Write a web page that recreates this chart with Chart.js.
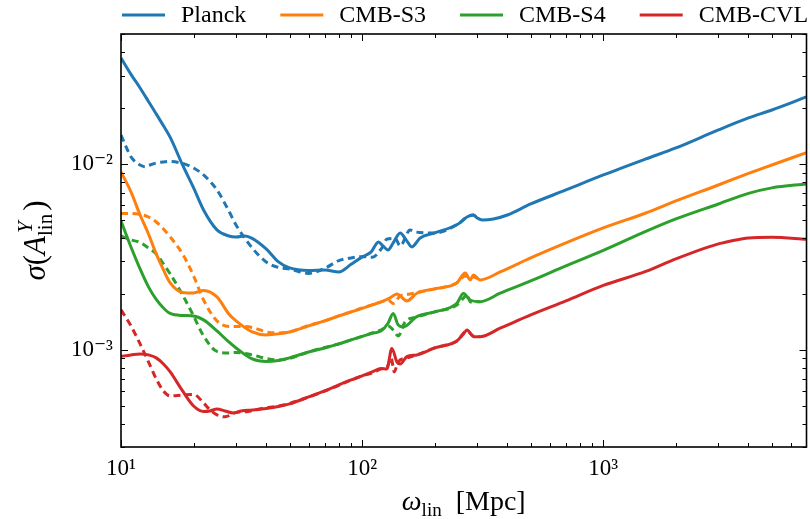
<!DOCTYPE html>
<html><head><meta charset="utf-8">
<script src="https://cdn.jsdelivr.net/npm/chart.js@4.4.0/dist/chart.umd.min.js"></script>
<style>html,body{margin:0;padding:0;background:#fff}#wrap{width:810px;height:519px}</style>
</head><body><div id="wrap"><canvas id="c" width="810" height="519"></canvas></div>
<script>
// ---------- data ----------
const seriesNames = ['Planck', 'CMB-S3', 'CMB-S4', 'CMB-CVL'];

const planckSolidX = [10,11,12,13,14,15,16,18,20,22,25,28,30,32.7,35,40,45,50,60,70,80,90,100,109,116.8,122,128,134.5,143.8,152.2,160.8,174,200,250,272,289,300,315,350,400,500,700,1000,1500,2000,3000,4000,5000,6960];
const planckSolidY = [0.03736,0.0305,0.02576,0.0218,0.01866,0.0161,0.01395,0.00991,0.00746,0.00567,0.00443,0.00411,0.00406,0.00411,0.00399,0.0035,0.00298,0.002764,0.00268,0.002697,0.00263,0.00289,0.00317,0.003372,0.003817,0.003631,0.003456,0.00377,0.004266,0.003913,0.003585,0.00401,0.004266,0.00477,0.0052,0.00533,0.005139,0.005012,0.005072,0.00533,0.006111,0.007272,0.008758,0.01068,0.01224,0.0153,0.01776,0.0196,0.02304];
const planckDashX = [10,10.5,11,12,12.6,13,14,15,16,18,20,22,25,28,30,35,40,45,50,60,70,80,90,100,110,120,127,137,143.8,158,166,200,250,272,289,300];
const planckDashY = [0.01438,0.0124,0.01095,0.0099,0.0097,0.00985,0.01016,0.01029,0.01035,0.0101,0.00955,0.008758,0.007272,0.005603,0.00471,0.003541,0.002978,0.00278,0.00273,0.002582,0.00275,0.00303,0.00313,0.00318,0.003157,0.0035,0.003961,0.003986,0.003631,0.00443,0.004319,0.004266,0.00477,0.0052,0.00533,0.005139];

const s3SolidX = [10,11,12,13,14,15,16,18,20,22,25,28,30,35,40,45,50,60,70,80,90,100,110,120,130.6,139.3,153.3,168.6,200,247,267.6,280.5,289.6,308.7,373.7,500,700,1000,1500,2000,3000,4000,5000,6960];
const s3SolidY = [0.00909,0.007093,0.00533,0.004213,0.003289,0.002697,0.002296,0.002041,0.002028,0.002092,0.00193,0.001562,0.001433,0.00125,0.001205,0.00122,0.00125,0.001347,0.001433,0.001524,0.001602,0.001674,0.001748,0.001814,0.001905,0.002003,0.001837,0.00202,0.002131,0.002296,0.002598,0.002382,0.002534,0.002382,0.00263,0.00313,0.00377,0.004539,0.005465,0.006344,0.007734,0.008922,0.00991,0.01155];
const s3DashX = [10,11,12,13,14,15,16,18,20,22,25,28,30,35,40,45,50,60,70,80,90,100,110,120,128.2,134.5,143.8,158,174,200,247,267.6,280.5,289.6,308.7];
const s3DashY = [0.005432,0.005432,0.005365,0.0052,0.004889,0.004483,0.00406,0.003289,0.002503,0.001858,0.001433,0.001338,0.001338,0.001322,0.00125,0.001235,0.00125,0.001355,0.001433,0.001524,0.001602,0.001683,0.001748,0.001814,0.001858,0.00178,0.001954,0.002003,0.002053,0.002131,0.002296,0.002503,0.002442,0.002472,0.002382];

const s4SolidX = [10,11,12,13,14,15,16,18,20,22,25,28,30,35,40,45,50,60,70,80,90,100,110,120,128.2,134.5,141,148,168.6,200,247,263.3,272,280.5,308.7,373.7,500,700,1000,1500,2000,3000,4000,5000,6960];
const s4SolidY = [0.004949,0.003585,0.00273,0.002185,0.00187,0.001683,0.001572,0.001533,0.001524,0.001451,0.001266,0.001104,0.001025,0.000894,0.000867,0.000878,0.000906,0.000975,0.001025,0.001077,0.001132,0.001182,0.001227,0.001266,0.001397,0.001572,0.001364,0.00133,0.001511,0.001602,0.001784,0.00202,0.001936,0.001858,0.00182,0.00202,0.002352,0.002834,0.003434,0.004346,0.005074,0.006111,0.006965,0.00746,0.007832];
const s4DashX = [10,11,12,13,14,15,16,18,20,22,25,28,30,35,40,45,50,60,70,80,90,100,110,120,128.2,134.5,141,150.7,168.6,200,247,263.3,272,280.5,308.7];
const s4DashY = [0.00411,0.003913,0.003793,0.003541,0.003289,0.002905,0.002566,0.001979,0.001524,0.00119,0.000981,0.000963,0.000969,0.00094,0.0009,0.000883,0.0009,0.000975,0.001031,0.001077,0.001132,0.001182,0.001235,0.001281,0.001347,0.001281,0.00119,0.001415,0.001506,0.001602,0.001748,0.001905,0.002003,0.001814,0.00182];

const cvlSolidX = [10,11,12,13,14,15,16,18,20,22,23.4,25,27,29.2,31.5,35,40,45,50,60,70,80,90,100,110,120,126.6,132.8,139.3,143.8,153.3,168.6,200,247,263.3,272,289.6,308.7,373.7,500,700,1000,1500,2000,3000,3500,4000,5000,6960];
const cvlSolidY = [0.000923,0.00094,0.000952,0.00094,0.000906,0.00084,0.000761,0.000601,0.000499,0.000466,0.000469,0.000481,0.000469,0.000458,0.000469,0.000475,0.000484,0.000496,0.000512,0.000558,0.000601,0.000648,0.000689,0.000724,0.000761,0.000795,0.00079,0.001019,0.000862,0.00084,0.00092,0.00094,0.001025,0.001118,0.00122,0.001281,0.001179,0.001179,0.001309,0.001543,0.001837,0.002225,0.002647,0.003091,0.003723,0.0039,0.00401,0.004045,0.003945];
const cvlDashX = [10,11,12,13,14,15,16,18,20,22,23.4,25,27,29.7,33.6,38.5,45,50,60,70,80,90,100,110,120,127,131.9,135.8,141,153.3,168.6,200,247,272,289,308.7];
const cvlDashY = [0.001643,0.001347,0.001077,0.000862,0.000698,0.000601,0.000565,0.000572,0.000576,0.000518,0.000475,0.000447,0.000436,0.000458,0.000466,0.000484,0.000499,0.000515,0.000558,0.000601,0.000644,0.000689,0.000724,0.000752,0.00079,0.000811,0.000906,0.000761,0.000862,0.000906,0.00094,0.001025,0.001118,0.001266,0.00119,0.001179];

const xTickValues = [10, 100, 1000];
const xTickLabels = ['10¹', '10²', '10³'];
const yTickValues = [0.001, 0.01];
const yTickLabels = ['10⁻³', '10⁻²'];

// ---------- styling ----------
const colors = ['#1f77b4', '#ff7f0e', '#2ca02c', '#d62728'];
const SERIF = '"Liberation Serif", "DejaVu Serif", serif';

function pts(xs, ys) { return xs.map((x, i) => ({ x: x, y: ys[i] })); }
const allSeries = [
  [planckSolidX, planckSolidY, planckDashX, planckDashY],
  [s3SolidX, s3SolidY, s3DashX, s3DashY],
  [s4SolidX, s4SolidY, s4DashX, s4DashY],
  [cvlSolidX, cvlSolidY, cvlDashX, cvlDashY]
];
const datasets = [];
allSeries.forEach((s, i) => {
  datasets.push({ label: seriesNames[i], data: pts(s[0], s[1]), borderColor: colors[i], backgroundColor: colors[i],
    borderWidth: 3, pointRadius: 0, cubicInterpolationMode: 'monotone', fill: false });
  datasets.push({ label: seriesNames[i] + ' (dashed)', data: pts(s[2], s[3]), borderColor: colors[i], backgroundColor: colors[i],
    borderWidth: 3, borderDash: [7, 4.5], pointRadius: 0, cubicInterpolationMode: 'monotone', fill: false });
});

function drawRich(ctx, parts, cx, cy, rot) {
  let total = 0;
  const widths = parts.map(p => { ctx.font = p[1]; const w = (p[3] !== undefined) ? p[3] : ctx.measureText(p[0]).width; total += w; return w; });
  ctx.save();
  ctx.translate(cx, cy);
  if (rot) ctx.rotate(rot);
  ctx.textBaseline = 'alphabetic';
  ctx.textAlign = 'left';
  ctx.fillStyle = '#000';
  let x = -total / 2;
  parts.forEach((p, i) => { ctx.font = p[1]; ctx.fillText(p[0], x + (p[4] || 0), p[2]); x += widths[i]; });
  ctx.restore();
}

const decor = {
  id: 'decor',
  afterDraw(chart) {
    const ctx = chart.ctx, ca = chart.chartArea, sx = chart.scales.x, sy = chart.scales.y;
    ctx.save();
    ctx.strokeStyle = '#000';
    ctx.lineWidth = 1;
    const line = (a, b, c, d) => { ctx.beginPath(); ctx.moveTo(a, b); ctx.lineTo(c, d); ctx.stroke(); };
    [1, 10, 100, 1000, 10000].forEach(d => {
      for (let k = 1; k < 10; k++) {
        const v = k * d;
        if (v < sx.min || v > sx.max) continue;
        const p = Math.round(sx.getPixelForValue(v)) + 0.5, L = k === 1 ? 7 : 4;
        line(p, ca.bottom, p, ca.bottom - L); line(p, ca.top, p, ca.top + L);
      }
    });
    [1e-5, 1e-4, 1e-3, 1e-2, 1e-1].forEach(d => {
      for (let k = 1; k < 10; k++) {
        const v = k * d;
        if (v < sy.min || v > sy.max) continue;
        const p = Math.round(sy.getPixelForValue(v)) + 0.5, L = k === 1 ? 7 : 4;
        line(ca.left, p, ca.left + L, p); line(ca.right, p, ca.right - L, p);
      }
    });
    ctx.lineWidth = 1.6;
    ctx.strokeRect(ca.left, ca.top, ca.right - ca.left, ca.bottom - ca.top);

    // legend
    ctx.font = '24px ' + SERIF;
    ctx.textBaseline = 'middle';
    ctx.textAlign = 'left';
    let x = 122;
    const ly = 15;
    seriesNames.forEach((n, i) => {
      ctx.strokeStyle = colors[i]; ctx.lineWidth = 3;
      line(x, ly, x + 43, ly);
      ctx.fillStyle = '#000';
      ctx.fillText(n, x + 59, ly + 1);
      x += 59 + ctx.measureText(n).width + 34;
    });

    // axis titles
    const big = '28px ' + SERIF, bigI = 'italic 28px ' + SERIF, sm = '19px ' + SERIF, smI = 'italic 19px ' + SERIF;
    drawRich(ctx, [['ω', bigI, 0], ['lin', sm, 6], ['  [Mpc]', big, 0]], (ca.left + ca.right) / 2, 510, 0);
    const yb = '31px ' + SERIF, ybI = 'italic 31px ' + SERIF, ys = '21px ' + SERIF, ysI = 'italic 21px ' + SERIF;
    ctx.font = ysI; const wY = ctx.measureText('Y').width; ctx.font = ys; const wL = ctx.measureText('lin').width;
    drawRich(ctx, [['σ', ybI, 0], ['(', yb, 0], ['A', ybI, 0], ['Y', ysI, -13, 0, 3], ['lin', ys, 7, Math.max(wY, wL) + 3], [')', yb, 0]],
      45, (ca.top + ca.bottom) / 2, -Math.PI / 2);
    ctx.restore();
  }
};

new Chart(document.getElementById('c'), {
  type: 'line',
  data: { datasets: datasets },
  plugins: [decor],
  options: {
    responsive: false, animation: false, devicePixelRatio: 1,
    layout: { padding: { top: 34, right: 3.5, left: 0, bottom: 0 } },
    plugins: { legend: { display: false }, tooltip: { enabled: false } },
    elements: { line: { tension: 0 } },
    scales: {
      x: {
        type: 'logarithmic', min: 10, max: 6960,
        grid: { display: false, drawTicks: false }, border: { display: false },
        afterBuildTicks: s => { s.ticks = xTickValues.map(v => ({ value: v })); },
        afterFit: s => { s.height = 72; },
        ticks: { autoSkip: false, maxRotation: 0, padding: 8, color: '#000', font: { family: SERIF, size: 23 },
          callback: v => xTickLabels[xTickValues.indexOf(v)] }
      },
      y: {
        type: 'logarithmic', min: 3.0e-4, max: 0.0503,
        grid: { display: false, drawTicks: false }, border: { display: false },
        afterBuildTicks: s => { s.ticks = yTickValues.map(v => ({ value: v })); },
        afterFit: s => { s.width = 121; },
        ticks: { autoSkip: false, padding: 8, color: '#000', font: { family: SERIF, size: 23 },
          callback: v => yTickLabels[yTickValues.indexOf(v)] }
      }
    }
  }
});
</script></body></html>
